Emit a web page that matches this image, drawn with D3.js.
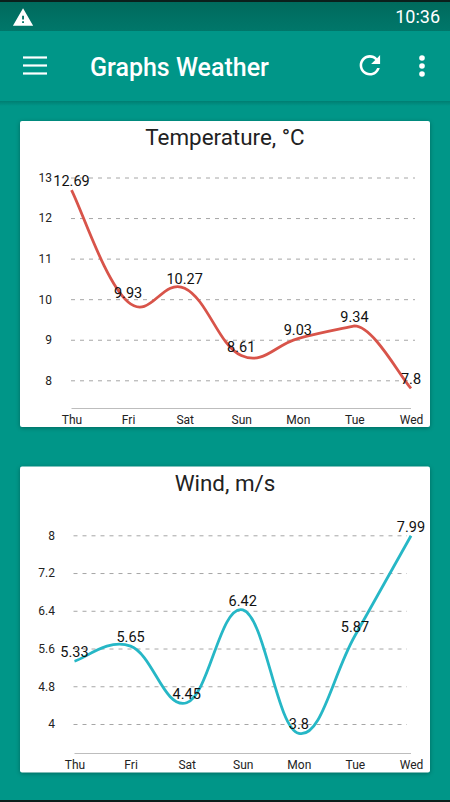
<!DOCTYPE html>
<html>
<head>
<meta charset="utf-8">
<script src="https://cdn.jsdelivr.net/npm/d3@7"></script>
<style>
	html, body { margin: 0; padding: 0; background: #009688; overflow: hidden; }
	svg { display: block; font-family: Roboto, sans-serif; }
	.card { filter: drop-shadow(0 1px 2px rgba(0, 0, 0, 0.3)); }
	.axis .domain { display: none; }
	.axis--y line { stroke: #a6a6a6; stroke-width: 1; stroke-dasharray: 4 5; }
	.axis--x line { display: none; }
	.axis text { font-size: 12px; fill: #222; font-family: Roboto, sans-serif; }
</style>
</head>
<body>
<svg id="chart" width="450" height="802"></svg>
<script>
const days = ['Thu', 'Fri', 'Sat', 'Sun', 'Mon', 'Tue', 'Wed'];

const tempValues = [12.69, 9.93, 10.27, 8.61, 9.03, 9.34, 7.8];
const tempTicks = [8, 9, 10, 11, 12, 13];

const windValues = [5.33, 5.65, 4.45, 6.42, 3.8, 5.87, 7.99];
const windTicks = [4, 4.8, 5.6, 6.4, 7.2, 8];

const ICON_REFRESH =
	'M17.65 6.35C16.2 4.9 14.21 4 12 4c-4.42 0-7.99 3.58-7.99 8s3.57 8 7.99 8c3.73 0 6.84-2.55 7.73-6h-2.08c-.82 2.33-3.04 4-5.65 4-3.31 0-6-2.69-6-6s2.69-6 6-6c1.66 0 3.14.69 4.22 1.78L13 11h7V4l-2.35 2.35z';
const ICON_WARNING = 'M1 21h22L12 2 1 21zm12-3h-2v-2h2v2zm0-4h-2v-4h2v4z';

const SMOOTH = 0.2;

const $svg = d3.select('#chart');

// same as a cardinal spline, except the curve can break at one point
// (the reference has a corner at Tue on the temperature line)
function smoothPath(points, cornerAt) {
	const path = d3.path();
	const tangent = i => {
		const prev = points[Math.max(i - 1, 0)];
		const next = points[Math.min(i + 1, points.length - 1)];
		return [(next[0] - prev[0]) * SMOOTH, (next[1] - prev[1]) * SMOOTH];
	};
	path.moveTo(points[0][0], points[0][1]);
	for (let i = 0; i < points.length - 1; i++) {
		const p0 = points[i];
		const p1 = points[i + 1];
		const dx = p1[0] - p0[0];
		const t0 = i === cornerAt ? [dx / 3, 0] : tangent(i);
		const t1 = i + 1 === cornerAt ? [dx * SMOOTH, (p1[1] - p0[1]) * SMOOTH] : tangent(i + 1);
		path.bezierCurveTo(p0[0] + t0[0], p0[1] + t0[1], p1[0] - t1[0], p1[1] - t1[1], p1[0], p1[1]);
	}
	return path.toString();
}

function drawHeader() {
	const $defs = $svg.append('defs');
	const $grad = $defs
		.append('linearGradient')
		.attr('id', 'status')
		.attr('x1', 0)
		.attr('x2', 0)
		.attr('y1', 0)
		.attr('y2', 1);
	$grad.append('stop').attr('offset', 0).attr('stop-color', '#00695c');
	$grad.append('stop').attr('offset', 1).attr('stop-color', '#00776a');

	const $shadow = $defs
		.append('linearGradient')
		.attr('id', 'barShadow')
		.attr('x1', 0)
		.attr('x2', 0)
		.attr('y1', 0)
		.attr('y2', 1);
	$shadow.append('stop').attr('offset', 0).attr('stop-color', '#007e72');
	$shadow.append('stop').attr('offset', 1).attr('stop-color', '#009688');

	$svg.append('rect').attr('width', 450).attr('height', 31).attr('fill', 'url(#status)');
	$svg.append('rect').attr('width', 450).attr('height', 2).attr('fill', '#0b1f1c');
	$svg.append('rect').attr('y', 101).attr('width', 450).attr('height', 5).attr('fill', 'url(#barShadow)');
	$svg.append('rect').attr('y', 800).attr('width', 450).attr('height', 2).attr('fill', '#0b1f1c');

	$svg
		.append('path')
		.attr('d', ICON_WARNING)
		.attr('fill', '#fff')
		.attr('transform', 'translate(12, 6.5) scale(0.92)');
	$svg
		.append('text')
		.attr('x', 440)
		.attr('y', 23)
		.attr('text-anchor', 'end')
		.attr('fill', '#fff')
		.style('font-size', '18px')
		.text('10:36');

	$svg
		.selectAll('.burger')
		.data([57.5, 65.5, 73.5])
		.join('rect')
		.attr('class', 'burger')
		.attr('x', 23)
		.attr('y', d => d - 1.1)
		.attr('width', 24)
		.attr('height', 2.2)
		.attr('fill', '#fff');

	$svg
		.append('text')
		.attr('x', 90)
		.attr('y', 76)
		.attr('fill', '#fff')
		.style('font-size', '25px')
		.style('font-weight', 500)
		.text('Graphs Weather');

	$svg
		.append('path')
		.attr('d', ICON_REFRESH)
		.attr('fill', '#fff')
		.attr('transform', 'translate(354.5, 50) scale(1.28)');

	$svg
		.selectAll('.dot')
		.data([58, 66, 74])
		.join('circle')
		.attr('class', 'dot')
		.attr('cx', 422)
		.attr('cy', d => d)
		.attr('r', 2.8)
		.attr('fill', '#fff');
}

function drawCard({ title, values, ticks, color, top, yTop, yBottom, xLeft, baseY, gridLeft, gridRight, labelX, cornerAt }) {
	const cardHeight = 306;

	$svg
		.append('rect')
		.attr('class', 'card')
		.attr('x', 20)
		.attr('y', top)
		.attr('width', 410)
		.attr('height', cardHeight)
		.attr('rx', 2)
		.attr('fill', '#fff');

	$svg
		.append('text')
		.attr('x', 225)
		.attr('y', top + 24)
		.attr('text-anchor', 'middle')
		.attr('fill', '#222')
		.style('font-size', '22.4px')
		.text(title);

	const x = d3.scalePoint().domain(days).range([xLeft, 411]);
	const y = d3
		.scaleLinear()
		.domain([ticks[0], ticks[ticks.length - 1]])
		.range([yBottom, yTop]);

	// GRID + Y LABELS
	$svg
		.append('g')
		.attr('class', 'axis axis--y')
		.attr('transform', `translate(${gridLeft}, 0)`)
		.call(
			d3
				.axisLeft(y)
				.tickValues(ticks)
				.tickSize(-(gridRight - gridLeft))
				.tickPadding(labelX)
				.tickFormat(d => d)
		);

	// X AXIS
	$svg
		.append('line')
		.attr('x1', x.range()[0])
		.attr('x2', x.range()[1])
		.attr('y1', baseY)
		.attr('y2', baseY)
		.attr('stroke', '#bdbdbd');

	$svg
		.append('g')
		.attr('class', 'axis axis--x')
		.attr('transform', `translate(0, ${top + cardHeight - 12})`)
		.call(d3.axisBottom(x).tickSize(0).tickPadding(0));

	// LINE
	const points = values.map((d, i) => [x(days[i]), y(d)]);

	$svg
		.append('path')
		.attr('d', smoothPath(points, cornerAt))
		.attr('fill', 'none')
		.attr('stroke', color)
		.attr('stroke-width', 2.8);

	$svg
		.selectAll(null)
		.data(values)
		.join('text')
		.attr('x', (d, i) => x(days[i]))
		.attr('y', d => y(d) - 4)
		.attr('text-anchor', 'middle')
		.attr('fill', '#111')
		.style('font-size', '14.5px')
		.text(d => d);
}

function init() {
	drawHeader();
	drawCard({
		title: 'Temperature, °C',
		values: tempValues,
		ticks: tempTicks,
		color: '#d8544a',
		top: 121,
		yTop: 177.5,
		yBottom: 380.3,
		xLeft: 71.5,
		baseY: 408.5,
		gridLeft: 71,
		gridRight: 415,
		labelX: 19,
		cornerAt: days.indexOf('Tue')
	});
	drawCard({
		title: 'Wind, m/s',
		values: windValues,
		ticks: windTicks,
		color: '#26b7c6',
		top: 466.5,
		yTop: 535.3,
		yBottom: 724,
		xLeft: 74.5,
		baseY: 753.5,
		gridLeft: 73.5,
		gridRight: 407,
		labelX: 18.5,
		cornerAt: -1
	});
}

init();
</script>
</body>
</html>
